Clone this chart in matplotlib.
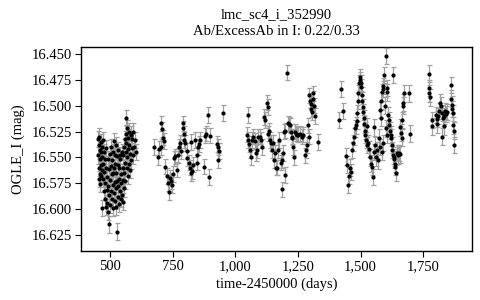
import matplotlib
matplotlib.use("Agg")
import matplotlib.pyplot as plt
from matplotlib.ticker import FuncFormatter

plt.rcParams['font.family'] = ['Liberation Serif', 'DejaVu Serif']

title = "lmc_sc4_i_352990\nAb/ExcessAb in I: 0.22/0.33"
xlabel = "time-2450000 (days)"
ylabel = "OGLE_I (mag)"
xticks = [500, 750, 1000, 1250, 1500, 1750]
yticks = [16.450, 16.475, 16.500, 16.525, 16.550, 16.575, 16.600, 16.625]

# Season 1
t1 = [452, 453, 454, 455, 456, 457, 458, 459, 460, 461, 462, 463, 464, 465, 466, 467, 468, 469, 470,
      471, 473, 474, 476, 477, 478, 480, 481, 482, 484, 485, 486, 488, 489, 490, 492, 493, 494, 495, 496,
      498, 499, 500, 502, 503, 504, 506, 507, 508, 510, 511, 512, 513, 515, 516, 517, 518, 519, 520,
      521, 522, 523, 524, 525, 527, 528, 529, 530, 531, 532, 533, 535, 536, 537, 538, 540, 541, 542, 543,
      545, 546, 547,
      550, 551, 552, 553, 555, 556, 557, 558, 560, 561, 562, 563, 564, 565, 566, 567, 568, 570, 571, 572,
      574, 575, 577, 578, 580, 582, 584,
      586, 588, 590, 592, 595, 598, 602]
m1 = [16.532, 16.548, 16.560, 16.538, 16.571, 16.530, 16.552, 16.566, 16.543, 16.576, 16.535, 16.557,
      16.545, 16.568, 16.599, 16.540, 16.562, 16.550, 16.533,
      16.571, 16.556, 16.583, 16.545, 16.564, 16.590, 16.552, 16.575, 16.598, 16.560, 16.541, 16.582,
      16.569, 16.594, 16.552, 16.603, 16.578, 16.615, 16.561, 16.586, 16.547, 16.572, 16.596, 16.558,
      16.583, 16.540, 16.566, 16.590, 16.553, 16.577, 16.599, 16.545, 16.565, 16.585, 16.534, 16.560,
      16.592, 16.548, 16.574,
      16.556, 16.598, 16.538, 16.580, 16.565, 16.549, 16.622, 16.573, 16.588, 16.557, 16.543, 16.578,
      16.595, 16.560, 16.571, 16.548, 16.583, 16.552, 16.590, 16.566, 16.575, 16.545, 16.586,
      16.593, 16.560, 16.572, 16.548, 16.580, 16.540, 16.565, 16.555, 16.532, 16.573, 16.545, 16.527,
      16.512, 16.536, 16.560, 16.522, 16.550, 16.531, 16.568, 16.542, 16.525, 16.556, 16.538, 16.562,
      16.547, 16.528, 16.553,
      16.541, 16.532, 16.548, 16.525, 16.540, 16.533, 16.545]
e1 = 0.008

# Season 2
t2 = [674, 690, 693, 702, 703, 705, 711, 714, 719, 728, 731, 733, 737, 741, 745, 749, 755, 760, 765,
      770, 775, 778, 783, 790, 792, 794, 796, 799, 805, 808, 815, 818, 822, 826, 829, 823, 838, 845,
      848, 852, 855, 858, 875, 878, 884, 892, 895, 899, 926, 929, 932, 935, 951]
m2 = [16.540, 16.550, 16.542, 16.540, 16.517, 16.523, 16.531, 16.534, 16.559, 16.568, 16.575, 16.584,
      16.570, 16.573, 16.577, 16.566, 16.551, 16.549, 16.562, 16.548, 16.540, 16.536, 16.544, 16.517,
      16.522, 16.527, 16.533, 16.536, 16.551, 16.544, 16.555, 16.560, 16.565, 16.563, 16.557, 16.535,
      16.533, 16.548, 16.555, 16.540, 16.537, 16.533, 16.559, 16.529, 16.527, 16.509, 16.569, 16.529,
      16.537, 16.553, 16.540, 16.544, 16.507]
e2 = 0.0075

# Season 3
t3 = [1047, 1049, 1051, 1055, 1058, 1062, 1066, 1070, 1078, 1082, 1086, 1090, 1098, 1104, 1108, 1114,
      1118, 1126, 1130, 1132, 1136, 1140, 1143, 1146, 1152, 1156, 1160, 1164, 1167, 1170, 1174, 1182,
      1185, 1188, 1190, 1193, 1197, 1200, 1206, 1209, 1213, 1217, 1220, 1224, 1227, 1231, 1234, 1236,
      1240, 1246, 1250, 1256, 1264, 1270, 1276, 1280, 1284, 1290, 1292, 1294, 1297, 1300, 1303, 1306,
      1309, 1311, 1314, 1316, 1330]
m3 = [16.528, 16.533, 16.509, 16.537, 16.543, 16.550, 16.533, 16.530, 16.534, 16.546, 16.543, 16.530,
      16.530, 16.533, 16.540, 16.511, 16.514, 16.497, 16.501, 16.527, 16.524, 16.533, 16.536, 16.543,
      16.536, 16.553, 16.546, 16.560, 16.560, 16.543, 16.533, 16.555, 16.581, 16.553, 16.546, 16.525,
      16.567, 16.524, 16.468, 16.517, 16.518, 16.519, 16.525, 16.530, 16.531, 16.540, 16.550, 16.525,
      16.527, 16.528, 16.528, 16.527, 16.530, 16.528, 16.548, 16.543, 16.538, 16.519, 16.530, 16.490,
      16.495, 16.498, 16.503, 16.506, 16.488, 16.493, 16.500, 16.510, 16.535]
e3 = 0.0075

# Season 4
t4 = [1414, 1420, 1430, 1441, 1444, 1450, 1455, 1459, 1462, 1467, 1470, 1474, 1477, 1480, 1484, 1487,
      1489, 1491, 1494, 1497, 1499, 1501, 1503, 1505, 1507, 1509, 1511, 1513, 1515, 1517, 1519, 1521,
      1524, 1527, 1530, 1533, 1537, 1541, 1545, 1549, 1552, 1554, 1557, 1561, 1565, 1570, 1574, 1577,
      1578, 1580, 1582, 1584, 1585, 1588, 1588, 1591, 1595, 1598, 1600, 1601, 1604, 1605, 1607, 1609,
      1612, 1615, 1618, 1620, 1622, 1624, 1626, 1628, 1630, 1632, 1634, 1636, 1638, 1640, 1644, 1649,
      1653, 1657, 1659, 1662, 1665, 1667, 1669, 1671, 1673, 1693, 1696]
m4 = [16.514, 16.484, 16.505, 16.549, 16.557, 16.577, 16.568, 16.560, 16.564, 16.543, 16.536, 16.530,
      16.522, 16.519, 16.515, 16.507, 16.495, 16.488, 16.478, 16.472, 16.475, 16.482, 16.478, 16.490,
      16.495, 16.501, 16.506, 16.512, 16.518, 16.524, 16.528, 16.533, 16.520, 16.538, 16.536, 16.542,
      16.550, 16.556, 16.559, 16.569, 16.521, 16.545, 16.538, 16.550, 16.543, 16.553, 16.531, 16.504,
      16.540, 16.512, 16.495, 16.545, 16.487, 16.484, 16.536, 16.481, 16.470, 16.500, 16.522, 16.452,
      16.483, 16.528, 16.487, 16.509, 16.514, 16.519, 16.524, 16.528, 16.531, 16.538, 16.543, 16.470,
      16.548, 16.550, 16.552, 16.556, 16.559, 16.565, 16.546, 16.548, 16.546, 16.547, 16.521, 16.526,
      16.531, 16.514, 16.500, 16.497, 16.488, 16.488, 16.527]
e4 = 0.008

# Season 5
t5 = [1771, 1773, 1774, 1775, 1784, 1786, 1800, 1803, 1806, 1808, 1814, 1817, 1820, 1823, 1826, 1829,
      1831, 1834, 1838, 1842, 1846, 1860, 1862, 1864, 1866, 1868, 1870, 1871, 1872]
m5 = [16.483, 16.469, 16.488, 16.492, 16.520, 16.514, 16.509, 16.513, 16.518, 16.510, 16.505, 16.497,
      16.500, 16.507, 16.530, 16.512, 16.520, 16.510, 16.505, 16.508, 16.506, 16.480, 16.493, 16.499,
      16.503, 16.507, 16.519, 16.524, 16.538]
e5 = 0.008

seasons = [(t1, m1, e1), (t2, m2, e2), (t3, m3, e3), (t4, m4, e4), (t5, m5, e5)]

fig = plt.figure(figsize=(4.8, 3.0), dpi=100)
ax = fig.add_axes([0.169, 0.163, 0.814, 0.680])

for t, m, e in seasons:
    ax.errorbar(t, m, yerr=e, fmt='o', color='black', markersize=2.0,
                ecolor='#a0a0a0', elinewidth=0.9, capsize=1.8, capthick=0.9, zorder=3)

ax.set_xlim(384, 1944)
ax.set_ylim(16.6408, 16.4432)
ax.set_xticks(xticks)
ax.set_yticks(yticks)
ax.xaxis.set_major_formatter(FuncFormatter(lambda v, p: f"{v:,.0f}"))
ax.yaxis.set_major_formatter(FuncFormatter(lambda v, p: f"{v:.3f}"))
ax.tick_params(direction='out', length=4, width=0.8, pad=2.5, labelsize=10.5, top=False, right=False)
for s in ax.spines.values():
    s.set_linewidth(1.0)

ax.set_title(title, fontsize=10.5, linespacing=1.35, pad=9)
ax.set_xlabel(xlabel, fontsize=10.5, labelpad=3)
ax.set_ylabel(ylabel, fontsize=10.5, labelpad=5)

fig.savefig("out.png", dpi=100)
